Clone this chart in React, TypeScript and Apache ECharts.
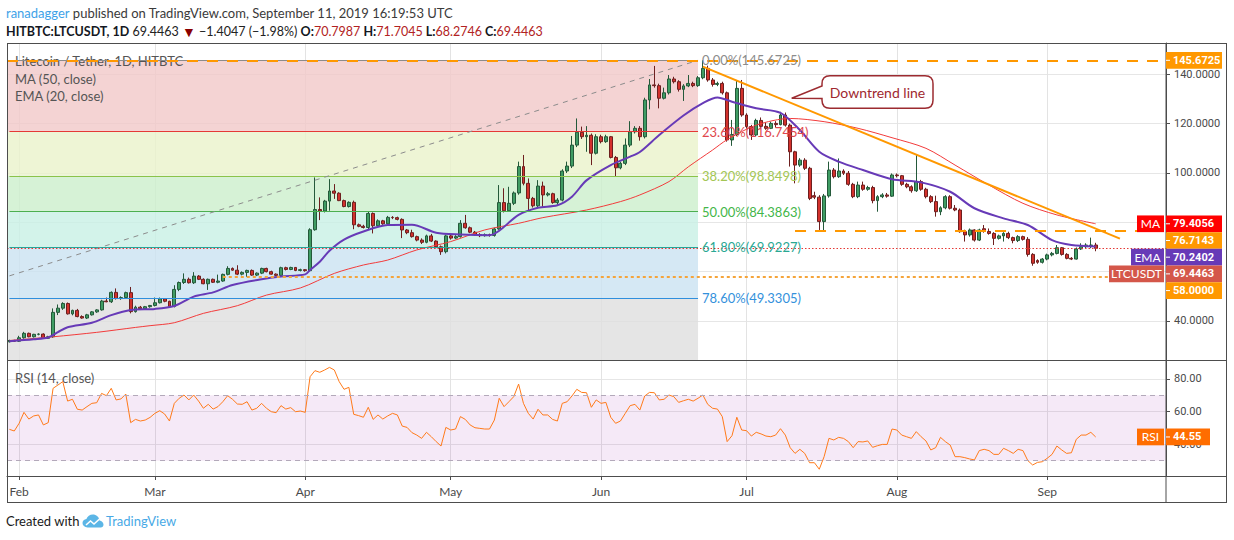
import React, { useEffect, useRef } from 'react';
import * as echarts from 'echarts';

const FONT = 'Lato, "Noto Sans", sans-serif';
const AXIS_FONT = 'Roboto, "Noto Sans", sans-serif';

const MONTH_NAMES = ['Jan', 'Feb', 'Mar', 'Apr', 'May', 'Jun', 'Jul', 'Aug', 'Sep', 'Oct', 'Nov', 'Dec'];
const FIRST_DAY = Date.UTC(2019, 0, 30);
const DAY_COUNT = 239;
const dates: string[] = Array.from({ length: DAY_COUNT }, (_, i) =>
  new Date(FIRST_DAY + i * 86400000).toISOString().slice(0, 10));

// daily LTC/USDT, [open, high, low, close], from Jan 30 2019
const candles: number[][] = [
  [31.6, 32.4, 31.3, 32.1], [32.1, 32.4, 31.6, 31.8], [31.8, 34.0, 31.5, 33.2], [33.2, 35.6, 32.8, 35.0], [35.0, 35.3, 33.4, 33.6],
  [33.6, 34.8, 33.3, 34.6], [34.6, 35.0, 34.2, 34.7], [34.7, 35.0, 32.8, 33.0], [33.0, 34.0, 32.7, 33.6], [33.6, 45.1, 33.2, 43.5],
  [43.5, 46.7, 42.4, 45.2], [45.2, 47.6, 44.5, 47.1], [47.1, 47.5, 42.6, 42.9], [42.9, 44.6, 42.3, 44.3], [44.3, 44.9, 41.5, 41.8],
  [41.8, 42.3, 40.9, 41.2], [41.2, 42.9, 40.8, 42.5], [42.5, 44.0, 42.2, 43.7], [43.7, 44.8, 43.3, 44.5], [44.5, 48.6, 44.2, 48.1],
  [48.1, 49.5, 47.6, 47.8], [47.8, 52.0, 47.3, 51.6], [51.6, 53.2, 48.7, 49.1], [49.1, 50.0, 48.6, 49.5], [49.5, 51.9, 49.1, 51.5],
  [51.5, 53.8, 43.1, 43.8], [43.8, 46.2, 43.4, 45.6], [45.6, 46.1, 44.9, 45.0], [45.0, 46.1, 44.5, 45.8], [45.8, 46.5, 45.4, 46.3],
  [46.3, 49.5, 45.9, 47.4], [47.4, 49.5, 47.1, 49.0], [49.0, 49.3, 47.6, 48.0], [48.0, 48.2, 45.7, 45.9], [45.9, 54.5, 45.5, 52.8],
  [52.8, 56.0, 52.1, 55.6], [55.6, 59.3, 55.0, 56.9], [56.9, 57.6, 55.2, 55.5], [55.5, 59.8, 55.0, 58.2], [58.2, 58.6, 56.6, 56.9],
  [56.9, 57.3, 54.9, 55.1], [55.1, 57.2, 52.6, 56.9], [56.9, 57.2, 55.4, 55.7], [55.7, 58.8, 55.3, 56.2], [56.2, 59.2, 55.9, 58.9],
  [58.9, 62.2, 58.5, 61.3], [61.3, 61.7, 60.4, 60.6], [60.6, 62.6, 58.6, 59.0], [59.0, 60.1, 58.5, 59.7], [59.7, 60.8, 57.9, 60.5],
  [60.5, 60.9, 58.3, 58.6], [58.6, 59.7, 58.2, 59.4], [59.4, 61.6, 59.0, 61.3], [61.3, 61.6, 59.7, 60.0], [60.0, 60.4, 58.8, 59.0],
  [59.0, 59.3, 58.2, 58.5], [58.5, 62.0, 58.2, 61.6], [61.6, 62.0, 60.5, 60.9], [60.9, 62.0, 60.6, 61.7], [61.7, 61.9, 60.2, 60.5],
  [60.5, 61.2, 60.1, 60.8], [60.8, 61.0, 60.0, 60.4], [60.4, 77.6, 60.1, 77.0], [77.0, 98.2, 76.6, 85.2], [85.2, 90.1, 80.9, 84.6],
  [84.6, 89.1, 84.0, 88.6], [88.6, 97.5, 84.7, 92.7], [92.7, 95.5, 89.5, 91.8], [91.8, 92.2, 88.6, 88.8], [88.8, 89.2, 86.1, 86.4],
  [86.4, 88.5, 86.0, 88.1], [88.1, 88.8, 77.2, 79.0], [79.0, 79.5, 78.0, 78.4], [78.4, 79.0, 77.5, 77.9], [77.9, 84.3, 76.9, 83.6],
  [83.6, 84.0, 75.5, 78.6], [78.6, 81.2, 78.0, 80.6], [80.6, 81.0, 79.0, 79.4], [79.4, 82.6, 79.0, 82.0], [82.0, 82.5, 81.3, 81.9],
  [81.9, 82.3, 80.8, 81.2], [81.2, 81.6, 73.6, 76.9], [76.9, 77.3, 75.2, 75.8], [75.8, 77.0, 73.8, 74.2], [74.2, 74.6, 72.3, 72.8],
  [72.8, 73.5, 71.2, 71.9], [71.9, 75.0, 71.5, 74.5], [74.5, 75.3, 72.0, 72.4], [72.4, 72.7, 69.5, 70.1], [70.1, 70.6, 66.8, 68.1],
  [68.1, 75.0, 67.4, 74.5], [74.5, 75.2, 73.0, 73.6], [73.6, 74.8, 73.2, 74.2], [74.2, 80.9, 73.8, 79.6], [79.6, 83.0, 77.4, 77.8],
  [77.8, 78.3, 75.6, 76.0], [76.0, 76.5, 74.5, 75.0], [75.0, 75.6, 74.0, 74.6], [74.6, 75.5, 74.2, 75.0], [75.0, 75.4, 74.2, 74.7],
  [74.7, 77.8, 74.2, 77.3], [77.3, 95.1, 77.0, 88.0], [88.0, 93.8, 84.0, 84.7], [84.7, 94.4, 84.2, 87.7], [87.7, 92.5, 87.0, 91.9],
  [91.9, 104.6, 91.2, 102.6], [102.6, 107.3, 95.0, 95.8], [95.8, 97.8, 84.7, 89.7], [89.7, 90.3, 86.0, 86.7], [86.7, 97.1, 86.0, 94.7],
  [94.7, 96.5, 86.3, 91.1], [91.1, 92.3, 90.5, 91.6], [91.6, 92.0, 87.5, 88.0], [88.0, 89.8, 87.2, 89.0], [89.0, 101.5, 88.5, 100.8],
  [100.8, 104.6, 100.0, 102.8], [102.8, 115.0, 102.0, 111.3], [111.3, 122.1, 110.5, 116.5], [116.5, 118.8, 113.8, 114.7], [114.7, 119.0, 108.6, 115.3],
  [115.3, 116.0, 103.2, 108.0], [108.0, 115.7, 107.5, 114.7], [114.7, 115.5, 112.0, 112.7], [112.7, 115.5, 112.2, 114.7], [114.7, 115.0, 105.9, 106.3],
  [106.3, 106.9, 98.5, 102.1], [102.1, 104.5, 101.5, 103.9], [103.9, 114.0, 103.2, 111.3], [111.3, 121.0, 110.5, 116.7], [116.7, 119.0, 116.0, 118.1],
  [118.1, 119.0, 113.1, 114.7], [114.7, 130.5, 114.0, 129.6], [129.6, 138.1, 125.8, 135.7], [135.7, 143.4, 134.6, 135.4], [135.4, 136.2, 126.2, 130.3],
  [130.3, 134.6, 129.8, 132.5], [132.5, 139.7, 131.8, 138.1], [138.1, 139.0, 136.3, 137.0], [137.0, 137.6, 133.0, 133.9], [133.9, 136.0, 129.2, 135.3],
  [135.3, 139.7, 134.8, 136.3], [136.3, 137.0, 134.8, 135.4], [135.4, 139.3, 134.9, 138.6], [138.6, 145.6725, 138.0, 142.4], [142.4, 143.5, 137.0, 137.7],
  [137.7, 138.5, 135.0, 135.9], [135.9, 137.0, 135.2, 136.3], [136.3, 137.0, 131.8, 132.5], [132.5, 133.0, 112.7, 113.4], [113.4, 121.5, 111.0, 115.6],
  [115.6, 137.7, 115.0, 134.3], [134.3, 137.7, 122.8, 123.5], [123.5, 124.2, 118.0, 118.8], [118.8, 119.5, 113.4, 115.4], [115.4, 122.0, 115.0, 121.3],
  [121.3, 122.5, 118.3, 118.9], [118.9, 120.5, 117.5, 118.1], [118.1, 120.8, 117.8, 120.1], [120.1, 121.0, 118.5, 119.6], [119.6, 124.8, 119.3, 123.5],
  [123.5, 124.5, 118.8, 119.4], [119.4, 120.0, 102.6, 108.6], [108.6, 109.0, 95.8, 103.2], [103.2, 106.0, 102.5, 105.2], [105.2, 106.0, 101.2, 101.9],
  [101.9, 102.5, 89.0, 89.7], [90.8, 92.4, 89.4, 90.2], [90.2, 91.0, 76.9, 80.3], [80.3, 91.5, 76.7, 90.7], [90.7, 104.6, 90.0, 101.2],
  [101.2, 102.0, 97.8, 98.5], [98.5, 105.9, 98.0, 100.8], [100.8, 101.5, 99.2, 99.9], [99.9, 100.8, 94.8, 95.4], [95.4, 96.0, 89.8, 90.4],
  [90.4, 96.5, 89.8, 95.1], [95.1, 96.5, 92.8, 93.4], [93.4, 94.8, 92.8, 94.1], [94.1, 94.8, 87.7, 88.8], [88.8, 91.0, 84.3, 90.4],
  [90.4, 91.8, 89.8, 91.1], [91.1, 91.9, 90.0, 90.6], [90.6, 99.8, 90.3, 99.2], [99.2, 99.8, 98.2, 98.9], [98.9, 99.2, 94.8, 95.4],
  [95.4, 96.0, 93.8, 94.4], [94.4, 95.0, 92.0, 92.8], [92.8, 107.3, 92.3, 96.5], [96.5, 97.2, 92.8, 93.4], [93.4, 94.0, 89.7, 90.4],
  [90.4, 91.0, 87.8, 88.4], [88.4, 90.8, 82.3, 84.3], [84.3, 86.5, 82.9, 85.9], [85.9, 91.0, 85.3, 90.4], [90.4, 91.0, 85.2, 85.7],
  [85.7, 87.0, 84.5, 85.0], [85.0, 85.6, 75.8, 76.2], [76.2, 77.0, 72.2, 74.9], [74.9, 77.5, 74.2, 76.9], [76.9, 77.2, 72.2, 72.8],
  [72.8, 77.4, 72.4, 76.9], [77.4, 78.9, 75.8, 76.3], [76.3, 77.5, 75.0, 75.5], [75.5, 76.0, 70.8, 73.5], [73.5, 75.0, 73.0, 74.5],
  [74.5, 76.0, 72.2, 75.5], [75.5, 76.2, 73.2, 73.8], [73.8, 74.2, 71.5, 72.6], [72.6, 74.8, 72.0, 74.2], [74.2, 74.6, 72.6, 73.1],
  [73.1, 74.0, 66.1, 67.0], [67.0, 67.5, 62.4, 63.4], [64.5, 65.0, 63.2, 63.8], [63.8, 65.5, 63.3, 65.1], [65.1, 67.3, 64.6, 66.8],
  [66.8, 68.0, 66.2, 67.4], [67.4, 70.8, 67.0, 69.7], [69.7, 70.0, 66.5, 67.0], [67.0, 67.5, 65.0, 65.4], [65.4, 65.9, 64.7, 65.1],
  [65.1, 69.8, 64.9, 69.2], [69.2, 71.5, 68.8, 70.1], [70.1, 71.5, 69.6, 70.8], [70.5, 73.8, 69.5, 70.8], [70.7987, 71.7045, 68.2746, 69.4463],
];

// RSI(14, close), one value per candle
const rsi14 = [
  49.2, 48.2, 52.9, 59.6, 55.5, 57.4, 58.0, 51.9, 53.3, 74.3,
  76.3, 78.4, 66.5, 67.6, 61.5, 61.0, 63.1, 65.1, 65.5, 71.2,
  69.8, 74.3, 67.2, 67.8, 70.8, 53.3, 55.3, 54.3, 54.9, 56.5,
  59.0, 60.6, 58.6, 54.3, 65.1, 68.2, 70.2, 67.2, 70.2, 66.5,
  62.1, 64.5, 61.6, 63.1, 66.1, 69.8, 67.6, 64.7, 64.5, 66.1,
  61.0, 62.1, 65.1, 62.1, 60.0, 59.4, 63.7, 61.6, 62.5, 60.0,
  60.4, 59.6, 81.4, 85.1, 84.1, 85.5, 87.1, 85.5, 78.4, 73.7,
  74.9, 58.4, 57.6, 56.6, 62.7, 55.3, 58.0, 55.5, 57.4, 59.0,
  58.0, 51.2, 50.4, 47.2, 45.7, 43.7, 47.4, 44.7, 41.7, 39.0,
  50.4, 48.8, 49.4, 57.0, 55.3, 51.9, 50.2, 49.8, 49.4, 49.4,
  54.9, 68.2, 63.1, 66.1, 69.2, 76.9, 65.1, 59.0, 55.5, 61.5,
  58.0, 58.0, 55.3, 54.3, 65.1, 66.1, 69.6, 73.7, 71.8, 71.6,
  62.7, 67.2, 65.1, 65.7, 56.6, 52.9, 54.3, 59.0, 63.7, 64.5,
  61.0, 69.6, 71.8, 71.6, 67.2, 67.6, 70.2, 69.2, 65.7, 66.7,
  67.6, 66.5, 68.2, 70.2, 64.5, 62.1, 61.6, 57.0, 41.7, 45.3,
  56.6, 48.8, 48.4, 45.1, 47.4, 46.4, 45.1, 44.7, 45.7, 49.6,
  45.7, 38.0, 34.5, 37.0, 34.5, 28.8, 28.8, 24.8, 32.5, 43.7,
  42.7, 44.3, 43.7, 41.7, 38.0, 41.7, 41.5, 42.1, 38.2, 39.2,
  40.0, 40.0, 49.4, 48.8, 45.7, 44.7, 43.7, 47.8, 44.7, 42.1,
  36.6, 38.0, 44.3, 41.7, 39.6, 32.5, 32.5, 31.9, 31.1, 30.5,
  36.2, 37.0, 36.2, 33.9, 33.9, 37.6, 36.2, 34.5, 37.0, 36.2,
  30.1, 27.4, 29.0, 29.4, 31.5, 33.9, 39.0, 36.6, 34.5, 34.9,
  43.1, 45.7, 45.7, 47.4, 44.55,
];

// MA(50) and EMA(20), [day index, value]
const ma50 = [
  [0, 32.1], [9, 33.6], [18, 35.4], [26, 37.4], [29, 38.1], [34, 39.3], [40, 43.1], [47, 46.2], [53, 50.5], [60, 53.4],
  [67, 59.3], [73, 62.7], [78, 64.7], [84, 68.8], [91, 72.2], [98, 76.9], [105, 79.6], [110, 81.9], [119, 85.0], [126, 88.4],
  [130, 91.1], [136, 96.5], [140, 102.5], [145, 109.3], [148, 113.5], [154, 119.4], [161, 122.1], [168, 120.8], [175, 118.1],
  [182, 114.3], [189, 110.0], [195, 103.2], [202, 95.1], [209, 87.7], [216, 83.0], [224, 79.4056],
];
const ema20 = [
  [0, 31.8], [5, 32.6], [8, 33.3], [10, 35.5], [12, 37.5], [17, 39.3], [21, 42.4], [25, 44.5], [30, 44.9], [34, 46.1],
  [38, 49.9], [42, 51.6], [46, 54.6], [52, 56.9], [56, 58.0], [61, 58.9], [62, 60.7], [64, 64.0], [66, 68.5], [69, 73.0],
  [73, 76.3], [78, 78.9], [83, 79.0], [88, 75.8], [93, 75.1], [99, 74.8], [101, 76.6], [105, 83.0], [109, 85.9], [113, 86.9],
  [116, 90.4], [119, 97.0], [124, 103.2], [128, 106.6], [130, 108.5], [134, 115.4], [139, 123.3], [143, 128.3], [146, 130.6],
  [149, 128.9], [154, 126.2], [159, 124.4], [163, 117.4], [167, 108.6], [171, 104.6], [176, 101.2], [182, 97.5], [188, 96.2],
  [194, 92.4], [199, 85.7], [205, 81.6], [210, 78.9], [215, 72.8], [219, 70.8], [224, 70.2402],
];

const fibRatios = ['0.00%', '23.60%', '38.20%', '50.00%', '61.80%', '78.60%'];
const fibPrices = [145.6725, 116.7454, 98.8498, 84.3863, 69.9227, 49.3305];
const fibLow = 23.1;
const FIB_END = 142;

const HIGH_LEVEL = 145.6725;
const RESIST_LEVEL = 76.7143;
const SUPPORT_LEVEL = 58.0;
const LAST_CLOSE = 69.4463;
const LAST_MA = 79.4056;
const LAST_EMA = 70.2402;
const LAST_RSI = 44.55;
const trendStart = [143, 143.1];
const trendEnd = [229, 73.4];
const diagStart = [0, 58.3];

const fibLineColors = ['#8c8c8c', '#e53935', '#8bc34a', '#4caf50', '#26a69a', '#2f8fdd'];
const fibTextColors = ['#8c8c8c', '#e0474c', '#a3c654', '#43b649', '#2aa893', '#3491dc'];
const fibZoneColors = ['#f1c8c8', '#eaf2ca', '#ccefcc', '#c8f0e5', '#cbe2f1', '#dedede'];

const ORANGE = '#ff9800';

const monthStart = (_: number, value: string) => value.endsWith('-01');
const monthName = (value: string) => MONTH_NAMES[parseInt(value.slice(5, 7), 10) - 1];
const isStep = (v: number) => Math.abs(v / 20 - Math.round(v / 20)) < 1e-6;

function buildOption() {
  const fibZones = fibPrices.map((top, i) => {
    const bottom = i + 1 < fibPrices.length ? fibPrices[i + 1] : fibLow;
    return [
      { yAxis: top, itemStyle: { color: fibZoneColors[i], opacity: 0.8 } },
      { xAxis: dates[FIB_END], yAxis: bottom },
    ];
  });
  const fibLines = fibPrices.map((v, i) => [
    {
      coord: [dates[0], v],
      lineStyle: { color: fibLineColors[i], width: 1, type: 'solid' },
      label: {
        show: true, position: 'end', distance: 4,
        formatter: `${fibRatios[i]}(${v.toFixed(4)})`,
        color: fibTextColors[i], fontSize: 13, fontFamily: FONT,
      },
    },
    { coord: [dates[FIB_END], v] },
  ]);
  const dash = { color: ORANGE, width: 2, type: [11, 9] };

  const xBase = {
    type: 'category',
    data: dates,
    boundaryGap: true,
    splitLine: { show: true, interval: monthStart, alignWithLabel: true, lineStyle: { color: '#e3e3e3' } },
  };

  return {
    animation: false,
    backgroundColor: '#ffffff',
    textStyle: { fontFamily: FONT },
    grid: [
      { left: 7, top: 43, width: 1159, height: 317, outerBoundsMode: 'none' },
      { left: 7, top: 360, width: 1159, height: 116, outerBoundsMode: 'none' },
    ],
    xAxis: [
      { ...xBase, gridIndex: 0, axisLine: { show: false }, axisTick: { show: false }, axisLabel: { show: false } },
      {
        ...xBase, gridIndex: 1,
        axisLine: { show: true, lineStyle: { color: '#4d4d4d' } },
        axisTick: { show: true, interval: monthStart, alignWithLabel: true, length: 4, lineStyle: { color: '#4d4d4d' } },
        axisLabel: { interval: monthStart, formatter: monthName, color: '#4a4a4a', fontSize: 12, margin: 9, fontFamily: FONT },
      },
    ],
    yAxis: [
      {
        type: 'value', gridIndex: 0, position: 'right',
        min: 24.19, max: 152.69, splitNumber: 6, minInterval: 20, maxInterval: 20,
        axisLine: { show: true, lineStyle: { color: '#4d4d4d' } },
        axisTick: { show: true, length: 4, lineStyle: { color: '#4d4d4d' } },
        axisLabel: { formatter: (v: number) => (isStep(v) ? v.toFixed(4) : ''), color: '#4a4a4a', fontSize: 11, margin: 8, fontFamily: AXIS_FONT },
        splitLine: { show: true, lineStyle: { color: '#e6e6e6' } },
      },
      {
        type: 'value', gridIndex: 1, position: 'right',
        min: 20.67, max: 91.62, splitNumber: 3, minInterval: 20, maxInterval: 20,
        axisLine: { show: true, lineStyle: { color: '#4d4d4d' } },
        axisTick: { show: true, length: 4, lineStyle: { color: '#4d4d4d' } },
        axisLabel: { formatter: (v: number) => (isStep(v) ? v.toFixed(2) : ''), color: '#4a4a4a', fontSize: 11, margin: 8, fontFamily: AXIS_FONT },
        splitLine: { show: true, lineStyle: { color: '#e6e6e6' } },
      },
    ],
    series: [
      {
        type: 'candlestick',
        name: 'LTCUSDT',
        xAxisIndex: 0,
        yAxisIndex: 0,
        barWidth: 3.4,
        data: candles.map(([o, h, l, c]) => [o, c, l, h]),
        itemStyle: { color: '#3f9c63', color0: '#d3312c', borderColor: '#24593a', borderColor0: '#6d1f1f', borderWidth: 1 },
        markArea: { silent: true, data: fibZones },
        markLine: {
          silent: true,
          symbol: 'none',
          label: { show: false },
          data: [
            ...fibLines,
            [
              { coord: [dates[diagStart[0]], diagStart[1]], lineStyle: { color: '#8c8c8c', width: 1, type: [5, 5] } },
              { coord: [dates[FIB_END], HIGH_LEVEL] },
            ],
            { yAxis: HIGH_LEVEL, lineStyle: dash },
            [{ coord: [dates[162], RESIST_LEVEL], lineStyle: dash }, { coord: [dates[DAY_COUNT - 1], RESIST_LEVEL] }],
            [
              { coord: [dates[44], SUPPORT_LEVEL], lineStyle: { color: '#f5a43a', width: 2, type: [3, 3] } },
              { coord: [dates[DAY_COUNT - 1], SUPPORT_LEVEL] },
            ],
            { yAxis: LAST_CLOSE, lineStyle: { color: '#e53935', width: 1, type: [1.5, 2] } },
            [
              { coord: [dates[trendStart[0]], trendStart[1]], lineStyle: { color: ORANGE, width: 2, type: 'solid' } },
              { coord: [dates[trendEnd[0]], trendEnd[1]] },
            ],
          ],
        },
      },
      {
        type: 'line', name: 'MA', xAxisIndex: 0, yAxisIndex: 0, z: 3,
        data: ma50.map(([i, v]) => [dates[i], v]),
        symbol: 'none', smooth: 0.3,
        lineStyle: { color: '#f23b3b', width: 1 },
      },
      {
        type: 'line', name: 'EMA', xAxisIndex: 0, yAxisIndex: 0, z: 3,
        data: ema20.map(([i, v]) => [dates[i], v]),
        symbol: 'none', smooth: 0.3,
        lineStyle: { color: '#673ab7', width: 2 },
      },
      {
        type: 'line', name: 'RSI', xAxisIndex: 1, yAxisIndex: 1,
        data: rsi14,
        symbol: 'none',
        lineStyle: { color: '#ff7a1a', width: 1 },
        markArea: { silent: true, itemStyle: { color: 'rgba(156, 39, 176, 0.1)' }, data: [[{ yAxis: 70 }, { yAxis: 30 }]] },
        markLine: {
          silent: true, symbol: 'none', label: { show: false },
          lineStyle: { color: '#b3a9ba', width: 1, type: [5, 4] },
          data: [{ yAxis: 70 }, { yAxis: 30 }],
        },
      },
    ],
  };
}

const CALLOUT_PATH =
  'M830 75.7 L925 75.7 Q933 75.7 933 83.7 L933 100.3 Q933 108.3 925 108.3 L830 108.3 Q822 108.3 822 100.3 L822 98.6 L791.7 98.3 L822 86 L822 83.7 Q822 75.7 830 75.7 Z';
const CLOUD_PATH =
  'M5.5 13 C2.5 13 0.5 11 0.5 8.6 C0.5 6.4 2.2 4.7 4.4 4.5 C5.3 1.9 7.8 0 10.8 0 C14.3 0 17.1 2.6 17.5 5.9 C19.8 6.2 21.5 8 21.5 10.3 C21.5 11.8 20.3 13 18.8 13 Z';
echarts.graphic.registerShape('callout', echarts.graphic.extendPath(CALLOUT_PATH, {}));
echarts.graphic.registerShape('tvcloud', echarts.graphic.extendPath(CLOUD_PATH, {}));

function text(x: number, y: number, str: string, fill: string, size = 13, extra: any = {}) {
  return {
    type: 'text', x, y, z: 30,
    style: {
      text: str, fill, fontSize: size, fontFamily: FONT,
      align: 'left', textAlign: 'left', verticalAlign: 'middle', textVerticalAlign: 'middle',
      ...extra,
    },
  };
}

function hline(x1: number, x2: number, y: number) {
  return { type: 'line', z: 40, shape: { x1, y1: y, x2, y2: y }, style: { stroke: '#4d4d4d', lineWidth: 1 } };
}
function vline(x: number, y1: number, y2: number) {
  return { type: 'line', z: 40, shape: { x1: x, y1, x2: x, y2 }, style: { stroke: '#4d4d4d', lineWidth: 1 } };
}

function axisBox(y: number, label: string, color: string, boxW: number, tag?: string, tagW = 0) {
  const h = 16.7;
  const els: any[] = [
    { type: 'rect', z: 50, shape: { x: 1166, y: y - h / 2, width: boxW, height: h }, style: { fill: color } },
    { type: 'line', z: 51, shape: { x1: 1166, y1: y, x2: 1170, y2: y }, style: { stroke: '#ffffff', lineWidth: 1 } },
    {
      type: 'text', z: 51, x: 1173, y,
      style: { text: label, fill: '#ffffff', fontSize: 11, fontWeight: 'bold', fontFamily: AXIS_FONT, verticalAlign: 'middle', textVerticalAlign: 'middle' },
    },
  ];
  if (tag) {
    els.push(
      { type: 'rect', z: 50, shape: { x: 1164 - tagW, y: y - h / 2, width: tagW, height: h }, style: { fill: color } },
      {
        type: 'text', z: 51, x: 1164 - tagW / 2, y,
        style: { text: tag, fill: '#ffffff', fontSize: 12, fontFamily: FONT, align: 'center', textAlign: 'center', verticalAlign: 'middle', textVerticalAlign: 'middle' },
      },
    );
  }
  return els;
}

function buildOverlay(chart: any) {
  const yMain = (v: number) => chart.convertToPixel({ yAxisIndex: 0 }, v) as number;
  const yRsi = (v: number) => chart.convertToPixel({ yAxisIndex: 1 }, v) as number;

  const tags = [
    { v: LAST_MA, color: '#ff0000', tag: 'MA', tagW: 27 },
    { v: RESIST_LEVEL, color: ORANGE },
    { v: LAST_EMA, color: '#673ab7', tag: 'EMA', tagW: 33 },
    { v: LAST_CLOSE, color: '#d4574a', tag: 'LTCUSDT', tagW: 55 },
    { v: SUPPORT_LEVEL, color: ORANGE },
  ];
  let prev = -Infinity;
  const boxes: any[] = [...axisBox(yMain(HIGH_LEVEL), HIGH_LEVEL.toFixed(4), ORANGE, 56)];
  tags.forEach((t) => {
    const y = Math.max(yMain(t.v), prev + 16.7);
    prev = y;
    boxes.push(...axisBox(y, t.v.toFixed(4), t.color, 56, t.tag, t.tagW));
  });
  boxes.push(...axisBox(yRsi(LAST_RSI), LAST_RSI.toFixed(2), '#ff6d00', 44, 'RSI', 27));

  const header = [
    {
      type: 'text', x: 6, y: 13, z: 30,
      style: {
        text: '{u|ranadagger}{p| published on TradingView.com, September 11, 2019 16:19:53 UTC}',
        verticalAlign: 'middle', textVerticalAlign: 'middle',
        rich: {
          u: { fill: '#3ea2e8', color: '#3ea2e8', fontSize: 13, fontFamily: FONT },
          p: { fill: '#3a3a3a', color: '#3a3a3a', fontSize: 13, fontFamily: FONT },
        },
      },
    },
    {
      type: 'text', x: 6, y: 31, z: 30,
      style: {
        text: '{b|HITBTC:LTCUSDT, 1D}{n| 69.4463 }{d|▼}{n| −1.4047 (−1.98%) }{b|O:}{r|70.7987}{b| H:}{r|71.7045}{b| L:}{r|68.2746}{b| C:}{r|69.4463}',
        verticalAlign: 'middle', textVerticalAlign: 'middle',
        rich: {
          b: { fill: '#131722', color: '#131722', fontSize: 12.5, fontWeight: 'bold', fontFamily: FONT },
          n: { fill: '#222222', color: '#222222', fontSize: 12.5, fontFamily: FONT },
          d: { fill: '#8b0000', color: '#8b0000', fontSize: 14, fontFamily: FONT },
          r: { fill: '#b22222', color: '#b22222', fontSize: 12.5, fontFamily: FONT },
        },
      },
    },
  ];

  const legends = [
    { ...text(15, 61, 'Litecoin / Tether, 1D, HITBTC', '#555555'), z: 3 },
    { ...text(15, 78.5, 'MA (50, close)', '#555555'), z: 3 },
    { ...text(15, 95.5, 'EMA (20, close)', '#555555'), z: 3 },
    text(15, 377.5, 'RSI (14, close)', '#555555'),
  ];

  const callout = [
    { type: 'callout', x: 0, y: 0, z: 30, style: { fill: '#ffffff', stroke: '#9c2b30', lineWidth: 1.5 } },
    text(877.5, 92, 'Downtrend line', '#a0282f', 14, { align: 'center', textAlign: 'center' }),
  ];

  const frame = [
    hline(7, 1227, 43.5), hline(7, 1227, 360.5), hline(7, 1227, 476.5), hline(7, 1227, 502.5),
    vline(7.5, 43, 503), vline(1166, 43, 503), vline(1226.5, 43, 503),
  ];

  const footer = [
    text(6, 521, 'Created with', '#1a1a1a', 13),
    { type: 'tvcloud', x: 82, y: 514.5, z: 30, style: { fill: '#5cb6e6' } },
    { type: 'polyline', z: 31, shape: { points: [[86, 525], [90.5, 521], [94, 524], [99.5, 519]] }, style: { stroke: '#ffffff', lineWidth: 1.6, fill: 'none' } },
    text(106, 521, 'TradingView', '#48a9e6', 13),
  ];

  return [...header, ...legends, ...callout, ...frame, ...boxes, ...footer];
}

export default function App() {
  const ref = useRef<HTMLDivElement>(null);

  useEffect(() => {
    if (!ref.current) return;
    const chart = echarts.init(ref.current, null, { renderer: 'svg' });
    chart.setOption(buildOption() as any);
    chart.setOption({ graphic: buildOverlay(chart) } as any);
    return () => {
      chart.dispose();
    };
  }, []);

  return <div ref={ref} style={{ position: 'absolute', left: 0, top: 0, width: 1234, height: 540 }} />;
}
